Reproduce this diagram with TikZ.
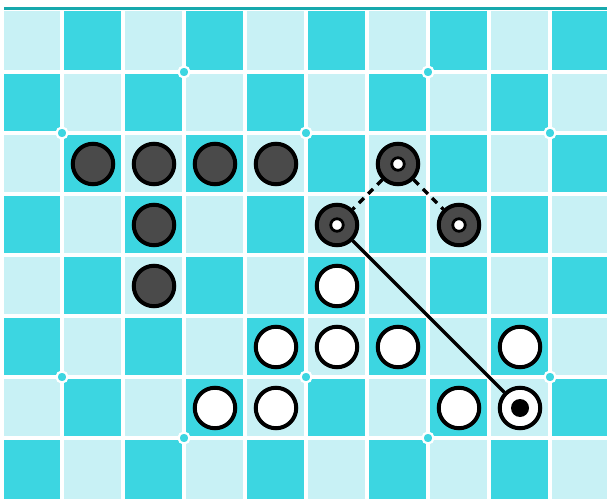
\documentclass[tikz,border=0pt]{standalone}
\usetikzlibrary{calc}
\definecolor{lightsq}{HTML}{C8F1F5}
\definecolor{darksq}{HTML}{3CD6E1}
\definecolor{barteal}{HTML}{17A9AD}
\definecolor{stonegray}{HTML}{4A4A4A}
\tikzset{
  darkstone/.style={circle,draw=black,line width=4pt,fill=stonegray,minimum size=40.5pt,inner sep=0pt},
  whitestone/.style={circle,draw=black,line width=4pt,fill=white,minimum size=40.5pt,inner sep=0pt},
  holedot/.style={circle,draw=black,line width=2.8pt,fill=white,minimum size=12.5pt,inner sep=0pt},
  blackdot/.style={circle,fill=black,minimum size=18pt,inner sep=0pt},
  gridmark/.style={circle,draw=white,line width=2.2pt,fill=darksq,minimum size=11pt,inner sep=0pt},
  moveline/.style={line width=3.2pt,draw=black},
  dashline/.style={line width=3.2pt,draw=black,dash pattern=on 7pt off 6pt},
}
\begin{document}
\begin{tikzpicture}[x=1pt,y=-1pt]
\useasboundingbox (0,0) rectangle (607,502);
\fill[white] (0,0) rectangle (607,502);
\fill[barteal] (4,7) rectangle (607,10.5);
% board
\begin{scope}
\clip (4,11) rectangle (607,499);
\foreach \r in {0,...,7}{
  \foreach \c in {0,...,9}{
    \pgfmathtruncatemacro{\parity}{mod(\r+\c,2)}
    \ifnum\parity=0
      \fill[lightsq] ({1+61*\c},{11+61*\r}) rectangle ({62+61*\c},{72+61*\r});
    \else
      \fill[darksq] ({1+61*\c},{11+61*\r}) rectangle ({62+61*\c},{72+61*\r});
    \fi
  }
}
\foreach \c in {1,...,9}{
  \draw[white,line width=3.8pt] ({1+61*\c},0) -- ({1+61*\c},502);
}
\foreach \r in {1,...,7}{
  \draw[white,line width=3.8pt] (0,{11+61*\r}) -- (607,{11+61*\r});
}
\end{scope}
% grid marks
\foreach \gx/\gy [count=\i] in {3/1,7/1,1/2,5/2,9/2,1/6,5/6,9/6,3/7,7/7}{
  \node[gridmark] (g\i) at ({1+61*\gx},{11+61*\gy}) {};
}
% dark stones
\node[darkstone] (d1) at (93,164) {};
\node[darkstone] (d2) at (154,164) {};
\node[darkstone] (d3) at (215,164) {};
\node[darkstone] (d4) at (276,164) {};
\node[darkstone] (d5) at (154,225) {};
\node[darkstone] (d6) at (154,286) {};
% marked dark stones
\node[darkstone] (m1) at (398,164) {};
\node[darkstone] (m2) at (337,225) {};
\node[darkstone] (m3) at (459,225) {};
% white stones
\node[whitestone] (w1) at (337,286) {};
\node[whitestone] (w2) at (276,347) {};
\node[whitestone] (w3) at (337,347) {};
\node[whitestone] (w4) at (398,347) {};
\node[whitestone] (w5) at (520,347) {};
\node[whitestone] (w6) at (215,408) {};
\node[whitestone] (w7) at (276,408) {};
\node[whitestone] (w8) at (459,408) {};
\node[whitestone] (t) at (520,408) {};
% connectors
\draw[moveline] (m2) -- (t);
\draw[dashline] (m1) -- (m2);
\draw[dashline] (m1) -- (m3);
% inner marks
\node[holedot] (h1) at (m1) {};
\node[holedot] (h2) at (m2) {};
\node[holedot] (h3) at (m3) {};
\node[blackdot] (bd) at (t) {};
\end{tikzpicture}
\end{document}
